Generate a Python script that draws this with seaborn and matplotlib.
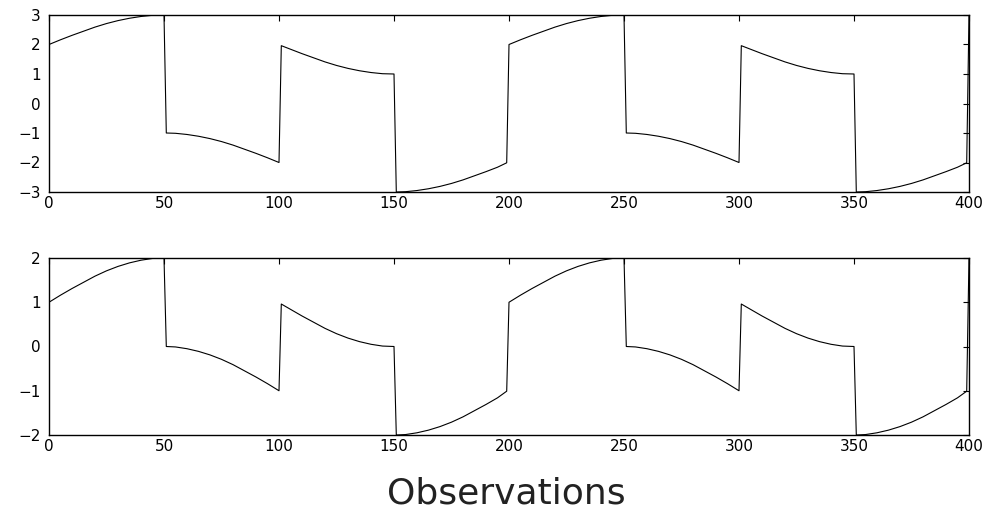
import matplotlib
matplotlib.use("Agg")
import matplotlib.pyplot as plt
import seaborn as sns
import pandas as pd

obs = [0, 5, 10, 15, 20, 25, 30, 35, 40, 45, 50,
       51, 55, 60, 65, 70, 75, 80, 85, 90, 95, 100,
       101, 105, 110, 115, 120, 125, 130, 135, 140, 145, 150,
       151, 155, 160, 165, 170, 175, 180, 185, 190, 195, 199,
       200, 205, 210, 215, 220, 225, 230, 235, 240, 245, 250,
       251, 255, 260, 265, 270, 275, 280, 285, 290, 295, 300,
       301, 305, 310, 315, 320, 325, 330, 335, 340, 345, 350,
       351, 355, 360, 365, 370, 375, 380, 385, 390, 395, 399,
       400]

top_values = [2.00, 2.16, 2.31, 2.45, 2.59, 2.71, 2.81, 2.89, 2.95, 2.99, 3.00,
              -1.00, -1.01, -1.05, -1.11, -1.19, -1.29, -1.41, -1.55, -1.69, -1.84, -2.00,
              1.96, 1.84, 1.69, 1.55, 1.41, 1.29, 1.19, 1.11, 1.05, 1.01, 1.00,
              -3.00, -2.99, -2.95, -2.89, -2.81, -2.71, -2.59, -2.45, -2.31, -2.16, -2.01,
              2.00, 2.16, 2.31, 2.45, 2.59, 2.71, 2.81, 2.89, 2.95, 2.99, 3.00,
              -1.00, -1.01, -1.05, -1.11, -1.19, -1.29, -1.41, -1.55, -1.69, -1.84, -2.00,
              1.96, 1.84, 1.69, 1.55, 1.41, 1.29, 1.19, 1.11, 1.05, 1.01, 1.00,
              -3.00, -2.99, -2.95, -2.89, -2.81, -2.71, -2.59, -2.45, -2.31, -2.16, -2.01,
              3.00]

bottom_values = [1.00, 1.16, 1.31, 1.45, 1.59, 1.71, 1.81, 1.89, 1.95, 1.99, 2.00,
                 0.00, -0.01, -0.05, -0.11, -0.19, -0.29, -0.41, -0.55, -0.69, -0.84, -1.00,
                 0.96, 0.84, 0.69, 0.55, 0.41, 0.29, 0.19, 0.11, 0.05, 0.01, 0.00,
                 -2.00, -1.99, -1.95, -1.89, -1.81, -1.71, -1.59, -1.45, -1.31, -1.16, -1.01,
                 1.00, 1.16, 1.31, 1.45, 1.59, 1.71, 1.81, 1.89, 1.95, 1.99, 2.00,
                 0.00, -0.01, -0.05, -0.11, -0.19, -0.29, -0.41, -0.55, -0.69, -0.84, -1.00,
                 0.96, 0.84, 0.69, 0.55, 0.41, 0.29, 0.19, 0.11, 0.05, 0.01, 0.00,
                 -2.00, -1.99, -1.95, -1.89, -1.81, -1.71, -1.59, -1.45, -1.31, -1.16, -1.01,
                 2.00]

x_ticks = [0, 50, 100, 150, 200, 250, 300, 350, 400]
top_yticks = [-3, -2, -1, 0, 1, 2, 3]
bottom_yticks = [-2, -1, 0, 1, 2]

sns.set_theme(style="white")
plt.rcParams['font.family'] = ['DejaVu Sans']

fig = plt.figure(figsize=(9.94, 5.13), dpi=100)
W, H = 994, 513
left, right = 49, 969
ax_top = fig.add_axes([left / W, 1 - 192 / H, (right - left) / W, 177 / H])
ax_bot = fig.add_axes([left / W, 1 - 435 / H, (right - left) / W, 177 / H])

df_top = pd.DataFrame({"obs": obs, "val": top_values})
df_bot = pd.DataFrame({"obs": obs, "val": bottom_values})

for ax, df, yt in [(ax_top, df_top, top_yticks), (ax_bot, df_bot, bottom_yticks)]:
    sns.lineplot(data=df, x="obs", y="val", ax=ax, color="black",
                 linewidth=0.8, estimator=None, sort=False)
    ax.set_xlim(0, 400)
    ax.set_ylim(yt[0], yt[-1])
    ax.set_xticks(x_ticks)
    ax.set_yticks(yt)
    ax.set_xticklabels([str(t) for t in x_ticks])
    ax.set_yticklabels([str(t).replace('-', '\u2212') for t in yt])
    ax.tick_params(axis='both', which='both', direction='in', length=4,
                   width=0.8, color='black', top=True, right=True,
                   labelsize=11, labelcolor='black')
    ax.tick_params(axis='x', pad=3)
    ax.tick_params(axis='y', pad=6)
    ax.set_xlabel("")
    ax.set_ylabel("")
    for s in ax.spines.values():
        s.set_visible(True)
        s.set_color("black")
        s.set_linewidth(1.0)
    ax.set_facecolor("white")

fig.text(506 / W, 1 - 503 / H, "Observations", ha="center", va="baseline",
         fontsize=26, color="#222222")

fig.savefig("out.png", dpi=100, facecolor="white")
